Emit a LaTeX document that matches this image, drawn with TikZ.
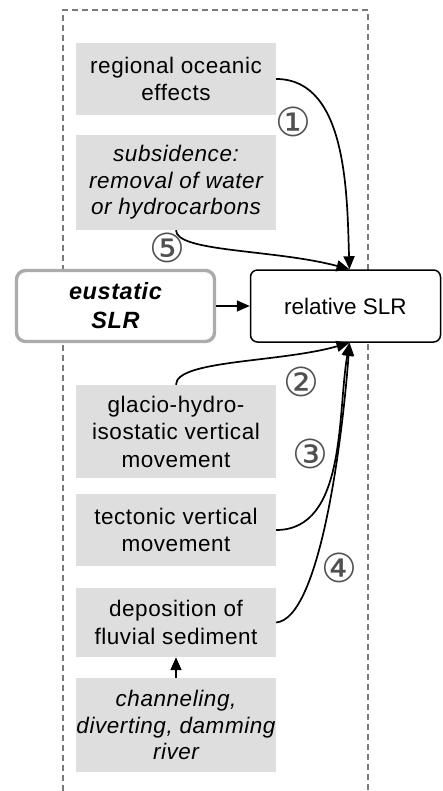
\documentclass[tikz,border=0pt]{standalone}
\usepackage{fontspec}
\setmainfont{Liberation Sans}[LetterSpace=2.5]
\newfontfamily\plainsans{Liberation Sans}
\newfontfamily\circfont{DejaVu Sans}
\usetikzlibrary{arrows.meta}
\definecolor{boxgray}{HTML}{DEDEDE}
\definecolor{framegray}{HTML}{7A7A7A}
\definecolor{numgray}{HTML}{505050}
\definecolor{eusgray}{HTML}{ABABAB}
\tikzset{
  factor/.style={fill=boxgray, minimum width=200pt, inner sep=0pt, align=center,
    font=\fontsize{22.5}{27.5}\selectfont},
  link/.style={line width=1.7pt, -{Triangle[length=13pt,width=11pt]}},
  num/.style={text=numgray, inner sep=0pt, font=\circfont\fontsize{40}{40}\selectfont}
}
\begin{document}
\begin{tikzpicture}[x=1pt,y=-1pt]
\useasboundingbox (0,0) rectangle (442,791);
% frame of the local factors
\draw[framegray, line width=1.8pt, dash pattern=on 6pt off 4pt]
  (63,791) -- (63,10) -- (368,10) -- (368,791);

% local factor boxes
\node[factor, minimum height=72pt] (ocean) at (176,79) {regional oceanic\\effects};
\node[factor, minimum height=95pt, font=\fontsize{22.5}{26.5}\selectfont\itshape] (subs) at (176,182.5)
  {subsidence:\\removal of water\\or hydrocarbons};
\node[factor, minimum height=93pt] (glacio) at (176,431.5) {glacio-hydro-\\isostatic vertical\\movement};
\node[factor, minimum height=72pt] (tect) at (176,530) {tectonic vertical\\movement};
\node[factor, minimum height=69pt] (depo) at (176,622.5) {deposition of\\fluvial sediment};
\node[factor, minimum height=94pt, font=\fontsize{22.5}{26.5}\selectfont\itshape] (chan) at (176,725)
  {channeling,\\diverting, damming\\river};

% global and resulting sea level rise
\node[draw=eusgray, line width=3.4pt, fill=white, rounded corners=9pt,
  minimum width=198pt, minimum height=71pt, inner sep=0pt, align=center,
  font=\fontsize{23.5}{29}\selectfont\bfseries\itshape] (eus) at (115.5,306) {eustatic\\SLR};
\node[draw, line width=1.5pt, fill=white, rounded corners=7pt,
  minimum width=190pt, minimum height=72pt, inner sep=0pt,
  font=\plainsans\fontsize{22.5}{26}\selectfont] (rel) at (345.5,306) {relative SLR};

% connectors
\draw[link] (ocean.east) to[out=0, in=92, looseness=0.9] ([xshift=4pt]rel.north);
\draw[link] (subs.south) .. controls +(0,22) and +(-75,-20) .. ([xshift=4pt]rel.north);
\draw[link] (eus.east) -- (rel.west);
\draw[link] (glacio.north) .. controls +(0,-25) and +(-70,20) .. ([xshift=4pt]rel.south);
\draw[link] (tect.east) to[out=0, in=-100, looseness=0.9] ([xshift=4pt]rel.south);
\draw[link] (depo.east) .. controls +(44,-4) and +(-7,95) .. ([xshift=4pt]rel.south);
\draw[link] (chan.north) -- (depo.south);

% numbering of the pathways
\node[num] (n1) at (293,122) {①};
\node[num] (n5) at (167,248) {⑤};
\node[num] (n2) at (301,382) {②};
\node[num] (n3) at (310,454) {③};
\node[num] (n4) at (339,568) {④};
\end{tikzpicture}
\end{document}
